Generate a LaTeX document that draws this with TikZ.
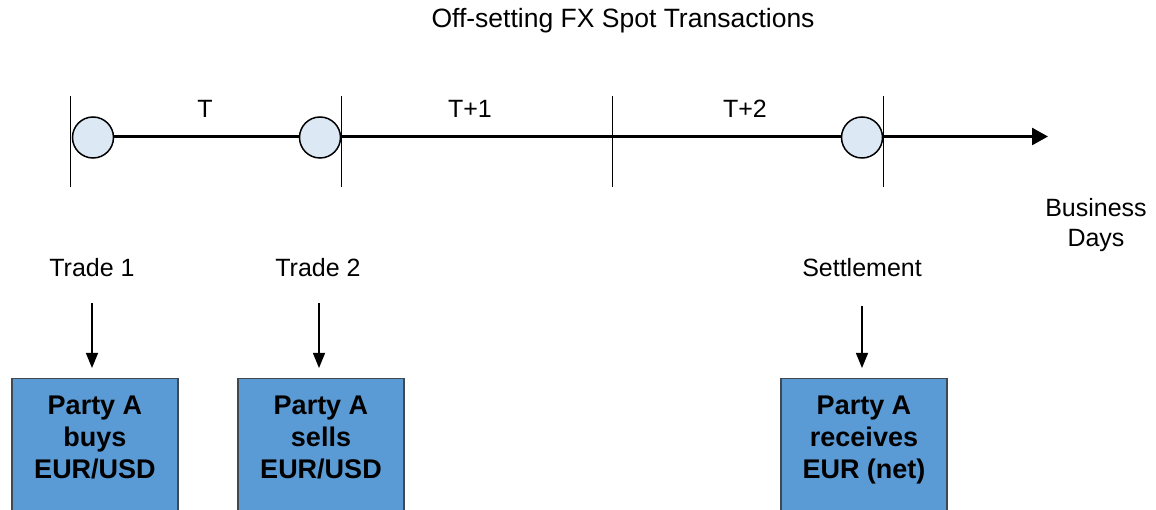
\documentclass[tikz,border=0pt]{standalone}
\usepackage{fontspec}
\setmainfont{Liberation Sans}
\usetikzlibrary{arrows.meta}
\definecolor{dotfill}{HTML}{DDE8F5}
\definecolor{boxfill}{HTML}{5B9BD5}
\definecolor{boxline}{HTML}{404850}
\begin{document}
\begin{tikzpicture}[x=1pt,y=-1pt,
  lbl/.style={font=\fontsize{25}{30}\selectfont, inner sep=0pt, align=center},
  dot/.style={circle, draw=black, line width=1.5pt, fill=dotfill, minimum size=41pt, inner sep=0pt},
  tick/.style={line width=1.2pt},
  pbox/.style={draw=boxline, line width=1.3pt, fill=boxfill, anchor=north, minimum width=166pt,
     align=center, inner ysep=17pt, text depth=110pt,
     font=\fontsize{27}{32}\selectfont\bfseries},
  down/.style={line width=1.3pt, -{Triangle[width=12pt,length=15pt]}}]
\useasboundingbox (0,0) rectangle (1156,510);
\clip (0,0) rectangle (1156,510);
% title
\node[lbl, font=\fontsize{26.5}{30}\selectfont] (title) at (623,21) {Off-setting FX Spot Transactions};
% ticks
\coordinate (t0a) at (70.5,96); \coordinate (t0b) at (70.5,187);
\coordinate (t1a) at (341.5,96); \coordinate (t1b) at (341.5,187);
\coordinate (t2a) at (612.5,96); \coordinate (t2b) at (612.5,187);
\coordinate (t3a) at (883.5,96); \coordinate (t3b) at (883.5,187);
\draw[tick] (t0a) -- (t0b);
\draw[tick] (t1a) -- (t1b);
\draw[tick] (t2a) -- (t2b);
\draw[tick] (t3a) -- (t3b);
% timeline
\coordinate (start) at (93,136.5);
\coordinate (tip) at (1048,136.5);
\draw[line width=2.6pt, -{Triangle[width=17pt,length=16pt]}] (start) -- (tip);
\node[dot] (c1) at (93,137.5) {};
\node[dot] (c2) at (320,137.5) {};
\node[dot] (c3) at (862,137.5) {};
% day labels
\node[lbl] (lT) at (205,109) {T};
\node[lbl] (lT1) at (470,109) {T+1};
\node[lbl] (lT2) at (745,109) {T+2};
\node[lbl] (bd) at (1096,225) {Business\\Days};
% event labels
\node[lbl] (tr1) at (92,268) {Trade 1};
\node[lbl] (tr2) at (318,268) {Trade 2};
\node[lbl] (set) at (862,268) {Settlement};
% boxes
\node[pbox] (b1) at (95,378) {Party A\\buys\\EUR/USD};
\node[pbox] (b2) at (321,378) {Party A\\sells\\EUR/USD};
\node[pbox] (b3) at (864,378) {Party A\\receives\\EUR (net)};
% arrows
\coordinate (a1) at (92,303);
\coordinate (a2) at (319,303);
\coordinate (a3) at (862,306);
\draw[down] (a1) -- ([yshift=10pt]a1 |- b1.north);
\draw[down] (a2) -- ([yshift=10pt]a2 |- b2.north);
\draw[down] (a3) -- ([yshift=10pt]a3 |- b3.north);
\end{tikzpicture}
\end{document}
